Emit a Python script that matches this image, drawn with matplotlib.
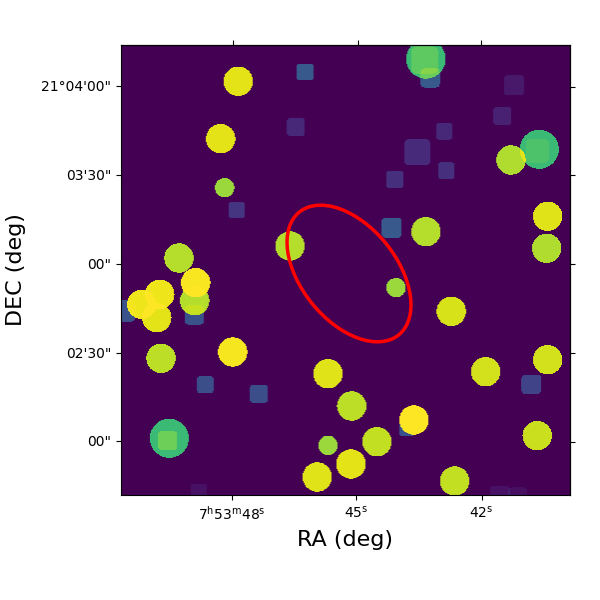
import numpy as np
import matplotlib
matplotlib.use("Agg")
import matplotlib.pyplot as plt
from matplotlib.patches import Ellipse

# Sources, in image pixels (full 600 px frame coordinates)
circle_x = [238.3,220.7,224.7,290,179,426,426,511,539.3,547.7,546.7,195.7,194.7,159.7,141.7,156.7,161,232.7,169.3,328,351.7,328,317.3,351,396,451.3,485.7,547.7,414,377,537.3,454.7]
circle_y = [81.3,138.7,187.7,246,258,59,231.7,160,149.3,216.3,248.3,282.7,300.7,294.3,304.3,317.7,358.3,352,438.3,373.7,406,445.3,477,464,287.7,311.3,371.7,359.7,420,441.7,435.7,481]
circle_r = [14.7,14.7,9.7,14.7,14.7,19.7,14.7,14.7,19.5,14.7,14.7,14.7,14.7,14.7,14.7,14.7,14.7,14.7,19.5,14.7,14.7,9.7,14.7,14.7,9.7,14.7,14.7,14.7,14.7,14.7,14.7,14.7]
circle_v = [0.96,0.96,0.85,0.89,0.89,0.68,0.89,0.88,0.68,0.95,0.88,0.99,0.89,0.975,0.975,0.96,0.90,0.985,0.68,0.95,0.90,0.85,0.95,0.96,0.85,0.94,0.93,0.93,1.0,0.91,0.92,0.91]

square_x = [305,296,236.7,424.6,430.3,514,502.3,444.3,417.3,446.3,395,391.7,537.3,194.3,125,205.3,259,167.7,199,531.3,407,500,518]
square_y = [72,127,210,60,78,85.3,116,131.3,152.3,170.7,179.3,227.7,151,315,311,384.7,393.7,440.7,492,384.3,428,496,497]
square_h = [8.3,9,8,13.5,9.5,10,9,8.3,13,8.3,8.7,10,11.7,9.5,10.5,8.3,9,9.5,8,9.7,8,10,9.5]
square_v = [0.28,0.11,0.15,0.22,0.28,0.07,0.09,0.11,0.12,0.14,0.14,0.28,0.13,0.25,0.25,0.24,0.24,0.31,0.05,0.20,0.25,0.05,0.04]

ell_center = (349, 273.5)
ell_width, ell_height, ell_angle = 158, 95.2, 51

x_ticks_top = [233.3, 357.7, 481.3]
x_ticks = [232.3, 356.3, 481.7]
x_labels = [r"7$^{\mathrm{h}}$53$^{\mathrm{m}}$48$^{\mathrm{s}}$", r"45$^{\mathrm{s}}$", r"42$^{\mathrm{s}}$"]
y_ticks = [86, 175, 264, 353, 441]
y_ticks_right = [87, 175.5, 264.3, 353, 442]
y_labels = ["21°04'00\"", "03'30\"", "00\"", "02'30\"", "00\""]

X0, X1, Y0, Y1 = 121, 570, 45, 495
N = 450
xs = X0 + (np.arange(N) + 0.5) * (X1 - X0) / N
ys = Y0 + (np.arange(N) + 0.5) * (Y1 - Y0) / N
gx, gy = np.meshgrid(xs, ys)
remain = np.ones((N, N))
for cx, cy, r, v in zip(circle_x, circle_y, circle_r, circle_v):
    remain[(gx - cx) ** 2 + (gy - cy) ** 2 <= r ** 2] *= 1 - v
for cx, cy, h, v in zip(square_x, square_y, square_h, square_v):
    rad = 0.35 * h
    qx = np.maximum(np.abs(gx - cx) - (h - rad), 0)
    qy = np.maximum(np.abs(gy - cy) - (h - rad), 0)
    remain[qx ** 2 + qy ** 2 <= rad ** 2] *= 1 - v
img = 1 - remain

fig = plt.figure(figsize=(6, 6), dpi=100)
ax = fig.add_axes([X0 / 600, 1 - Y1 / 600, (X1 - X0) / 600, (Y1 - Y0) / 600])
ax.imshow(img, cmap="viridis", vmin=0, vmax=1, extent=(X0, X1, Y1, Y0), aspect="auto", interpolation="bilinear")
ax.add_patch(Ellipse(ell_center, ell_width, ell_height, angle=ell_angle, fill=False, edgecolor="red", linewidth=2.5))
ax.set_xlim(X0, X1)
ax.set_ylim(Y1, Y0)
ax.set_xticks(x_ticks, x_labels)
ax.set_yticks(y_ticks, y_labels)
ax.tick_params(labelsize=10)
top = ax.secondary_xaxis("top")
top.set_xticks(x_ticks_top, [""] * 3)
right = ax.secondary_yaxis("right")
right.set_yticks(y_ticks_right, [""] * 5)
ax.set_xlabel("RA (deg)", fontsize=16)
ax.set_ylabel("DEC (deg)", fontsize=16)
ax.xaxis.set_label_coords((345 - X0) / (X1 - X0), -(540 - Y1) / (Y1 - Y0))
ax.xaxis.label.set_va("center")
ax.yaxis.set_label_coords(-(X0 - 16) / (X1 - X0), (495 - 270) / (Y1 - Y0))
ax.yaxis.label.set_va("center")
fig.savefig("out.png", dpi=100)
